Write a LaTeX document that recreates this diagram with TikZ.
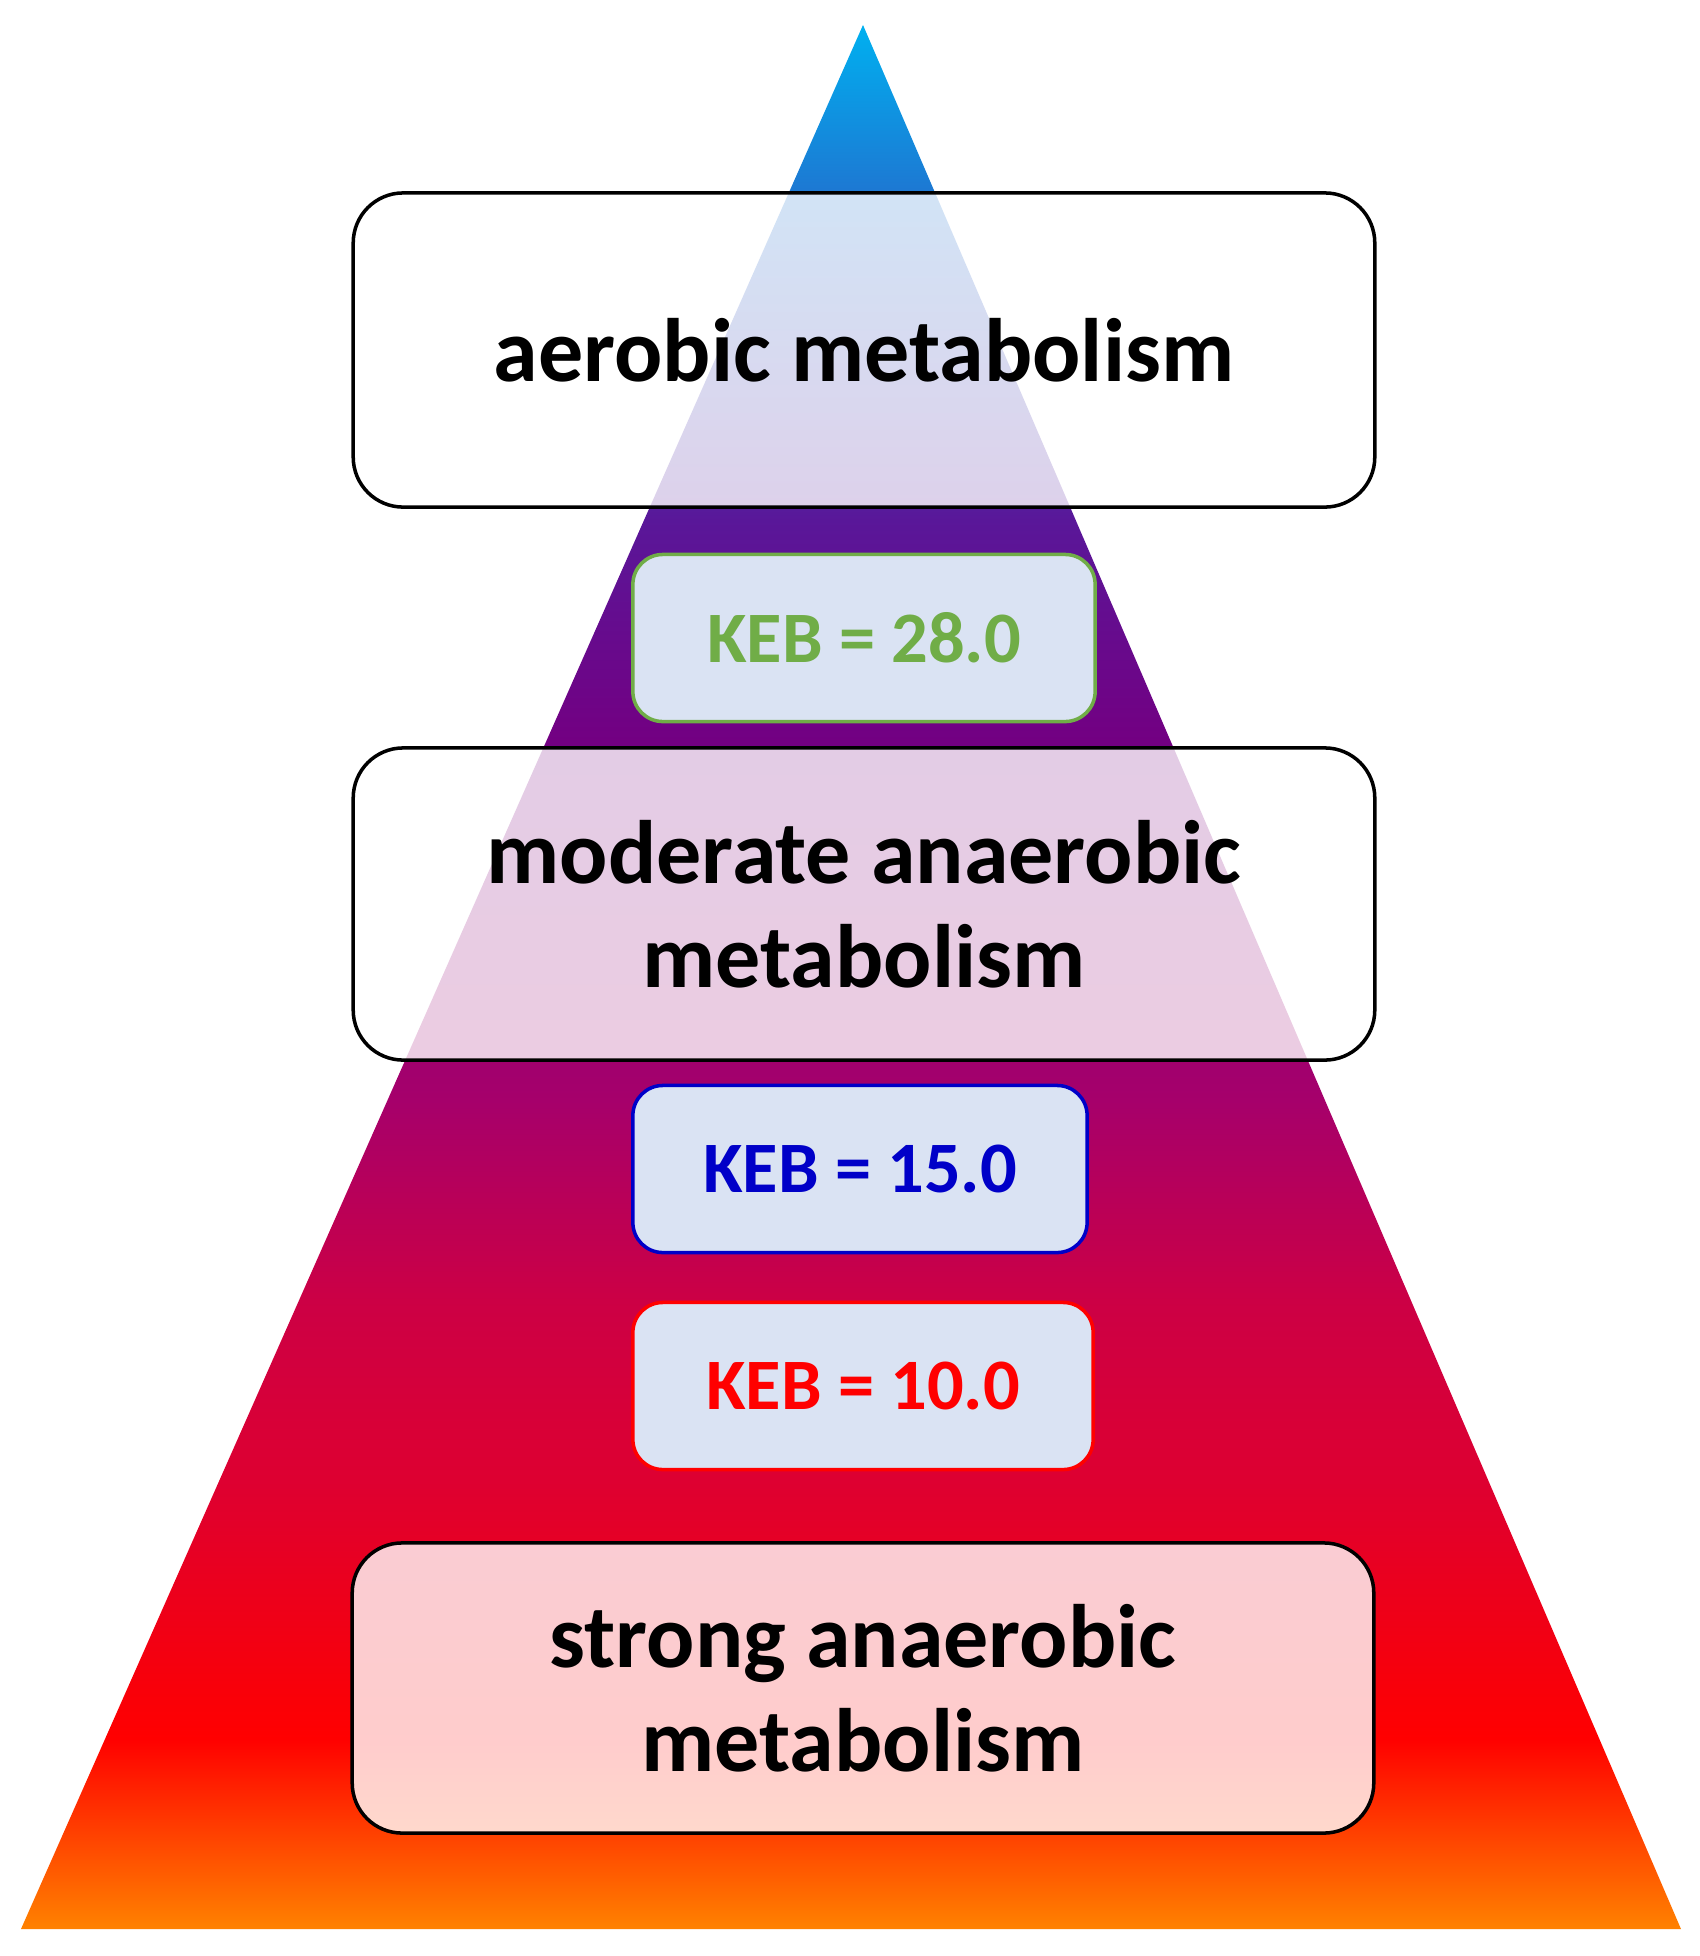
\documentclass[tikz,border=0pt]{standalone}
\usepackage{fontspec}
\setmainfont{Carlito}
\usepackage{tikz}

\definecolor{kebgreen}{RGB}{112,173,71}
\definecolor{kebblue}{RGB}{0,0,200}
\definecolor{kebred}{RGB}{255,0,0}
\definecolor{kebfill}{RGB}{218,227,243}

% colours of the pyramid, bottom (orange) to top (cyan)
\pgfdeclareverticalshading{pyramidshade}{100bp}{
  rgb(0bp)=(1,0.51,0);
  rgb(25bp)=(1,0.51,0);
  rgb(30bp)=(1,0,0);
  rgb(36.7bp)=(0.87,0,0.19);
  rgb(41.5bp)=(0.80,0,0.27);
  rgb(46.8bp)=(0.65,0,0.42);
  rgb(56.2bp)=(0.45,0,0.51);
  rgb(62bp)=(0.35,0.09,0.60);
  rgb(70.4bp)=(0.12,0.46,0.82);
  rgb(75bp)=(0,0.69,0.94);
  rgb(100bp)=(0,0.69,0.94)}

\tikzset{
  stagebox/.style = {shape=rectangle, rounded corners=0.5cm,
                     draw=black, line width=1pt, align=center,
                     fill=white, fill opacity=0.8, text opacity=1,
                     minimum width=10.21cm, inner sep=0pt,
                     font=\bfseries\fontsize{25.6}{29.5}\selectfont},
  kebbox/.style   = {shape=rectangle, rounded corners=0.3cm,
                     line width=1pt, fill=kebfill,
                     minimum height=1.67cm, inner sep=0pt,
                     font=\bfseries\fontsize{20.6}{24}\selectfont},
  greenkeb/.style = {kebbox, draw=kebgreen, text=kebgreen},
  bluekeb/.style  = {kebbox, draw=kebblue, text=kebblue},
  redkeb/.style   = {kebbox, draw=kebred, text=kebred}
}

\begin{document}
\begin{tikzpicture}[x=0.01cm, y=-0.01cm]
  \useasboundingbox (0,0) rectangle (1700,1956);
  % pyramid
  \shade[shading=pyramidshade] (863,25) -- (1681,1929) -- (21,1929) -- cycle;

  \node [stagebox, minimum height=3.14cm] (aerobic) at (864,350)
    {aerobic metabolism};
  \node [greenkeb, minimum width=4.62cm] (keb28) at (864,638)
    {KEB = 28.0};
  \node [stagebox, minimum height=3.12cm] (moderate) at (864,904)
    {moderate anaerobic\\metabolism};
  \node [bluekeb, minimum width=4.54cm] (keb15) at (860,1169)
    {KEB = 15.0};
  \node [redkeb, minimum width=4.60cm] (keb10) at (863,1386)
    {KEB = 10.0};
  \node [stagebox, minimum height=2.90cm] (strong) at (863,1688)
    {strong anaerobic\\metabolism};
\end{tikzpicture}
\end{document}
